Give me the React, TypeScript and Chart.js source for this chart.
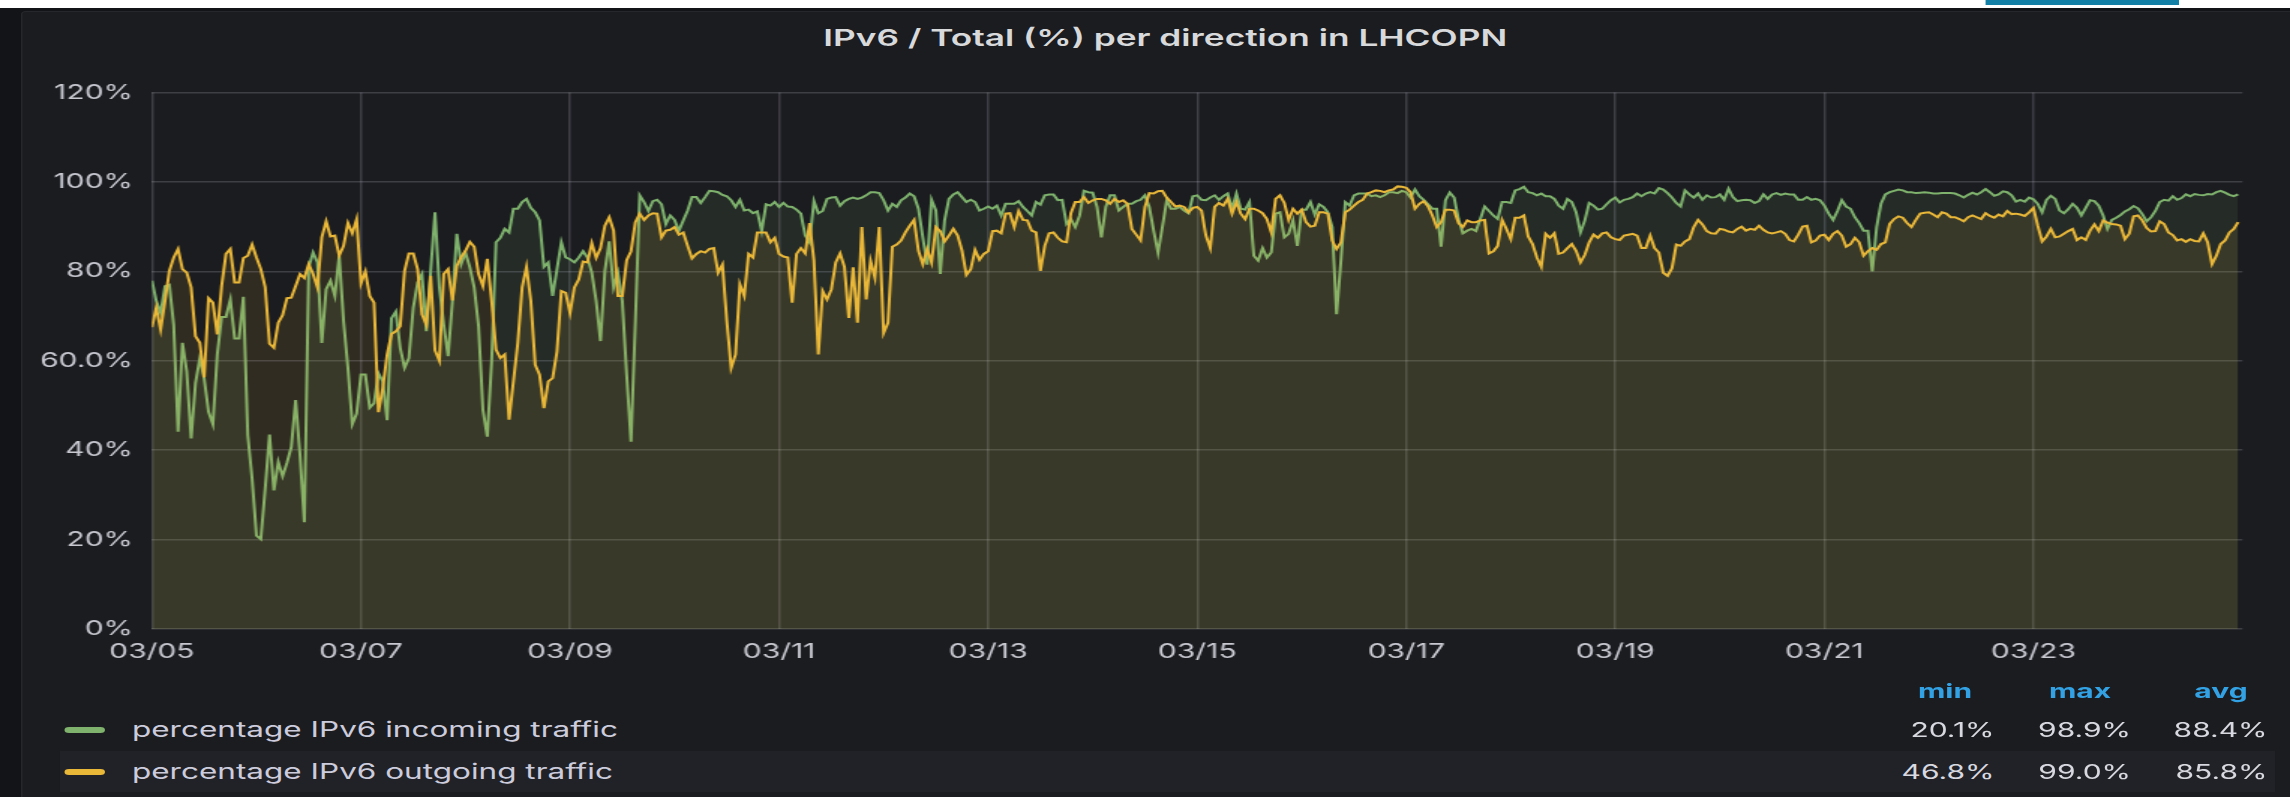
import React, { useEffect, useRef } from 'react';
import { Chart, registerables } from 'chart.js';

Chart.register(...registerables);

// Hourly samples, 03/05 00:00 .. 03/24 23:00 (percent)
const incoming: number[] = [
  77.9, 73.4, 70.7, 76.7, 77.0, 68.0, 44.1, 64.0, 57.6, 42.6,
  55.0, 60.6, 56.0, 48.6, 45.8, 61.4, 69.8, 69.8, 73.7, 65.0,
  65.0, 74.3, 43.4, 33.6, 20.9, 20.1, 31.4, 43.5, 31.0, 37.4,
  34.2, 37.2, 40.7, 51.2, 38.9, 23.9, 80.9, 84.2, 82.0, 64.0,
  76.0, 77.9, 74.5, 83.5, 68.9, 58.4, 45.8, 48.2, 56.9, 56.9,
  49.5, 50.5, 57.2, 55.4, 46.7, 69.5, 71.0, 62.9, 58.4, 60.6,
  71.9, 77.5, 79.4, 66.6, 80.1, 93.2, 76.4, 68.1, 61.0, 73.4,
  88.4, 81.6, 84.2, 80.9, 76.4, 67.7, 49.0, 43.0, 59.9, 86.5,
  87.5, 89.5, 88.7, 94.0, 94.0, 95.5, 96.2, 94.2, 93.2, 91.4,
  81.0, 82.0, 74.5, 80.5, 86.5, 83.1, 82.7, 82.0, 83.1, 84.5,
  83.1, 79.7, 73.4, 64.4, 80.1, 86.7, 76.4, 79.7, 73.4, 56.9,
  41.9, 68.9, 97.0, 95.5, 93.5, 95.7, 96.0, 95.0, 90.6, 92.5,
  91.5, 89.1, 91.4, 93.6, 96.6, 96.6, 95.3, 96.6, 98.0, 97.9,
  97.7, 97.1, 96.8, 95.9, 94.4, 96.0, 93.6, 93.8, 93.0, 93.4,
  89.0, 95.0, 94.7, 95.5, 94.4, 95.3, 94.5, 94.4, 93.8, 92.9,
  88.0, 86.5, 95.7, 93.0, 93.5, 96.2, 96.5, 96.6, 94.7, 95.7,
  96.2, 96.5, 96.2, 96.5, 97.0, 97.7, 97.7, 97.5, 95.9, 93.6,
  95.1, 94.4, 95.9, 96.5, 97.4, 96.8, 94.0, 87.6, 81.5, 96.0,
  93.6, 79.4, 91.4, 96.2, 97.2, 97.7, 96.6, 95.5, 96.0, 95.5,
  93.6, 94.0, 94.5, 94.0, 94.7, 92.5, 95.1, 95.1, 95.1, 95.7,
  94.4, 93.5, 92.5, 95.5, 94.9, 97.0, 97.2, 97.2, 95.9, 96.0,
  90.6, 91.7, 89.9, 92.5, 98.0, 97.7, 97.6, 94.4, 87.6, 94.4,
  97.0, 97.0, 93.6, 94.4, 95.1, 95.1, 95.7, 96.0, 97.0, 94.4,
  89.1, 84.2, 89.9, 95.9, 94.0, 94.0, 94.4, 93.6, 93.0, 96.8,
  97.0, 96.0, 95.9, 96.5, 97.0, 96.0, 96.8, 97.4, 94.0, 97.4,
  94.0, 93.8, 95.5, 83.5, 82.4, 85.2, 83.1, 84.2, 92.9, 93.2,
  87.6, 88.4, 91.4, 85.7, 93.8, 93.8, 95.5, 92.7, 95.0, 94.4,
  93.2, 89.9, 70.4, 82.4, 95.5, 94.7, 97.0, 97.4, 97.4, 97.4,
  96.8, 97.0, 96.6, 97.0, 97.7, 97.7, 97.5, 98.0, 97.7, 96.5,
  98.3, 96.8, 96.0, 95.0, 94.0, 94.0, 85.5, 95.9, 97.6, 96.5,
  91.7, 88.5, 89.1, 89.5, 89.0, 91.7, 94.5, 93.5, 92.5, 91.7,
  95.5, 95.5, 95.3, 98.1, 98.4, 98.9, 97.7, 97.5, 97.0, 97.4,
  96.8, 96.8, 96.2, 94.7, 94.0, 96.2, 95.5, 93.2, 88.7, 91.4,
  95.3, 94.7, 93.8, 94.0, 95.0, 95.9, 96.5, 95.4, 96.0, 96.2,
  96.6, 97.4, 96.8, 97.4, 97.7, 97.4, 98.6, 98.3, 97.5, 96.5,
  95.3, 94.5, 98.1, 97.2, 96.5, 97.4, 96.0, 97.0, 96.5, 96.6,
  97.2, 96.0, 98.5, 96.6, 95.7, 95.9, 96.0, 95.9, 95.3, 95.7,
  97.2, 96.2, 97.2, 97.5, 97.1, 97.4, 97.2, 97.2, 96.0, 96.0,
  96.6, 96.0, 96.2, 95.9, 94.7, 92.9, 91.5, 93.5, 95.9, 94.5,
  94.0, 92.1, 90.8, 89.1, 89.1, 80.0, 89.9, 95.1, 97.2, 97.7,
  98.0, 98.3, 98.1, 97.7, 97.7, 97.5, 97.6, 97.7, 97.6, 97.4,
  97.4, 97.5, 97.5, 97.5, 97.4, 97.0, 96.5, 97.1, 97.6, 97.2,
  97.7, 98.4, 97.7, 96.9, 97.2, 97.9, 97.7, 97.0, 95.6, 96.0,
  95.6, 96.5, 96.1, 95.1, 93.2, 96.0, 96.9, 96.2, 93.6, 93.0,
  93.9, 95.1, 94.2, 92.5, 94.2, 95.9, 95.7, 94.7, 92.5, 89.5,
  91.5, 92.0, 92.6, 93.4, 93.9, 94.6, 94.1, 92.8, 91.2, 92.1,
  93.5, 95.5, 96.0, 95.8, 96.8, 96.0, 96.4, 97.2, 96.8, 97.3,
  97.1, 97.0, 97.3, 97.2, 97.7, 98.0, 97.6, 97.1, 96.8, 97.2,
];

const outgoing: number[] = [
  67.5, 71.9, 67.0, 73.4, 80.1, 83.1, 85.0, 80.5, 79.7, 76.4,
  65.5, 64.0, 56.3, 74.0, 73.0, 65.9, 76.7, 83.9, 85.0, 77.5,
  77.5, 83.0, 83.5, 86.0, 83.1, 80.5, 76.5, 63.8, 62.9, 68.5,
  70.2, 74.0, 74.1, 76.7, 79.4, 78.5, 81.6, 79.4, 76.4, 87.6,
  91.2, 87.8, 88.0, 83.5, 85.7, 90.8, 88.5, 91.7, 77.3, 80.0,
  74.5, 73.0, 48.5, 53.9, 61.4, 66.0, 66.6, 67.7, 80.1, 84.0,
  84.0, 80.5, 70.4, 68.1, 79.0, 62.3, 60.0, 79.4, 80.5, 73.5,
  81.2, 83.2, 84.6, 86.6, 85.5, 79.4, 76.7, 82.8, 73.4, 62.5,
  60.6, 61.4, 46.8, 55.4, 64.0, 76.4, 81.0, 73.4, 59.1, 56.9,
  49.4, 55.4, 56.1, 62.1, 75.6, 75.2, 70.7, 76.4, 78.2, 82.2,
  82.0, 86.3, 83.0, 85.2, 90.2, 92.1, 89.1, 74.5, 74.5, 82.5,
  84.5, 91.0, 92.9, 91.5, 92.5, 93.0, 92.9, 87.6, 89.1, 89.3,
  89.9, 88.2, 88.7, 85.7, 82.9, 83.9, 84.5, 84.2, 85.0, 85.2,
  79.7, 81.5, 68.9, 58.4, 61.4, 77.1, 74.5, 83.9, 83.1, 88.7,
  88.7, 88.7, 86.5, 87.5, 83.9, 83.3, 83.1, 73.0, 83.9, 85.2,
  84.0, 90.8, 82.4, 61.4, 75.6, 73.7, 76.0, 82.0, 84.0, 81.0,
  69.6, 80.9, 68.5, 89.9, 73.7, 82.4, 78.6, 89.9, 66.2, 68.5,
  85.5, 86.0, 86.9, 88.7, 90.2, 91.5, 84.6, 81.6, 85.0, 82.0,
  89.9, 89.0, 86.7, 88.0, 89.5, 88.0, 84.6, 79.2, 80.5, 84.8,
  82.6, 83.9, 84.5, 89.0, 89.1, 88.5, 92.9, 93.0, 89.9, 93.5,
  91.5, 91.4, 89.1, 88.7, 80.1, 85.7, 88.5, 88.7, 87.5, 86.7,
  86.5, 93.0, 95.5, 95.5, 96.6, 95.3, 95.9, 96.2, 96.2, 95.9,
  95.1, 96.2, 95.5, 95.9, 95.1, 89.5, 88.2, 86.9, 94.4, 97.5,
  97.4, 97.9, 98.0, 96.5, 95.5, 94.5, 94.7, 94.4, 93.2, 94.2,
  94.4, 93.6, 88.0, 85.2, 94.4, 95.3, 94.7, 96.2, 92.9, 95.5,
  92.9, 91.7, 94.0, 94.0, 93.6, 93.0, 91.7, 88.7, 96.2, 97.0,
  95.3, 91.5, 94.0, 92.9, 93.8, 91.0, 90.0, 90.2, 93.2, 93.2,
  92.9, 86.9, 85.0, 86.5, 93.2, 93.8, 94.7, 95.5, 96.0, 97.4,
  97.7, 98.1, 98.0, 97.7, 98.1, 98.3, 99.0, 98.9, 98.7, 97.7,
  94.0, 95.1, 95.7, 94.5, 92.5, 89.9, 91.0, 93.8, 93.8, 93.6,
  90.8, 89.9, 91.4, 91.0, 91.0, 91.4, 91.5, 84.0, 84.5, 85.7,
  91.5, 89.5, 87.2, 92.0, 92.0, 92.5, 87.8, 86.1, 83.1, 81.0,
  88.4, 87.5, 88.5, 83.9, 84.2, 85.2, 86.1, 84.6, 82.0, 83.7,
  86.5, 88.2, 87.5, 88.5, 88.7, 87.6, 87.2, 87.0, 88.0, 88.2,
  88.4, 88.0, 85.2, 85.2, 88.0, 85.2, 84.2, 79.7, 79.0, 80.7,
  86.0, 85.7, 86.7, 87.2, 89.9, 91.5, 90.5, 89.0, 88.5, 88.4,
  89.5, 89.3, 88.9, 88.7, 89.5, 90.0, 89.1, 89.5, 89.3, 90.2,
  89.3, 88.7, 88.5, 88.7, 89.0, 88.4, 87.0, 86.7, 88.2, 90.0,
  90.2, 86.5, 86.9, 88.0, 88.2, 87.0, 88.4, 89.0, 88.0, 85.5,
  86.1, 87.5, 86.5, 83.5, 84.5, 85.2, 84.8, 86.1, 86.5, 90.6,
  91.7, 92.3, 92.0, 90.8, 89.9, 91.5, 92.9, 93.1, 93.2, 92.7,
  92.1, 93.2, 92.9, 92.1, 92.1, 91.7, 91.2, 92.1, 92.5, 92.1,
  91.7, 93.0, 92.4, 92.0, 92.7, 92.3, 93.5, 92.8, 92.9, 92.7,
  92.4, 93.2, 94.2, 90.2, 86.7, 87.8, 89.5, 87.6, 87.8, 88.4,
  89.0, 89.5, 87.0, 87.6, 87.0, 89.1, 90.5, 89.0, 91.4, 90.9,
  90.6, 90.5, 90.2, 87.2, 88.4, 92.3, 92.5, 91.4, 89.7, 88.9,
  89.0, 91.2, 90.6, 88.7, 88.1, 86.9, 87.2, 86.6, 87.2, 86.8,
  86.7, 88.5, 86.5, 81.6, 83.5, 86.1, 86.9, 88.7, 89.5, 91.0,
];

const xTickLabels = ['03/05', '03/07', '03/09', '03/11', '03/13', '03/15', '03/17', '03/19', '03/21', '03/23'];
const yTickLabels = ['0%', '20%', '40%', '60.0%', '80%', '100%', '120%'];
const seriesNames = ['percentage IPv6 incoming traffic', 'percentage IPv6 outgoing traffic'];
const seriesColors = ['#7EB26D', '#EAB839'];
const seriesFills = ['rgba(126,178,109,0.1)', 'rgba(234,184,57,0.1)'];
const statHeaders = ['min', 'max', 'avg'];
const incomingStats = ['20.1%', '98.9%', '88.4%'];
const outgoingStats = ['46.8%', '99.0%', '85.8%'];

const DW = 1527; // design width (the reference is stretched horizontally)
const SX = 2290 / DW;
const FONT = 'Inter, "Noto Sans", sans-serif';

export default function App() {
  const ref = useRef<HTMLCanvasElement>(null);

  useEffect(() => {
    document.documentElement.style.overflow = 'hidden';
    document.body.style.overflow = 'hidden';
    Chart.defaults.font.family = FONT;
    const gridColor = 'rgba(204,204,220,0.2)';
    const chart = new Chart(ref.current as HTMLCanvasElement, {
      type: 'line',
      data: {
        datasets: [
          {
            label: seriesNames[0],
            data: incoming.map((y, i) => ({ x: i, y })),
            borderColor: seriesColors[0],
            backgroundColor: seriesFills[0],
            fill: 'origin',
            borderWidth: 2,
            pointRadius: 0,
            tension: 0,
            order: 1,
          },
          {
            label: seriesNames[1],
            data: outgoing.map((y, i) => ({ x: i, y })),
            borderColor: seriesColors[1],
            backgroundColor: seriesFills[1],
            fill: 'origin',
            borderWidth: 2,
            pointRadius: 0,
            tension: 0,
            order: 0,
          },
        ],
      },
      options: {
        animation: false,
        responsive: false,
        events: [],
        layout: { padding: { top: 92.5, left: 0, right: 31.7, bottom: 11 } },
        plugins: { legend: { display: false }, tooltip: { enabled: false } },
        scales: {
          x: {
            type: 'linear',
            min: 0,
            max: 480,
            afterBuildTicks: (axis: any) => {
              axis.ticks = axis.ticks.filter((t: any) => t.value < 480);
            },
            afterFit: (axis: any) => {
              axis.height = 40;
            },
            ticks: {
              stepSize: 48,
              autoSkip: false,
              maxRotation: 0,
              padding: 11,
              color: '#c7c8d0',
              font: { family: FONT, size: 20 },
              callback: (v: any) => xTickLabels[Math.round(Number(v) / 48)] ?? '',
            },
            grid: { color: gridColor, lineWidth: 1.5, drawTicks: false },
            border: { display: false },
          },
          y: {
            min: 0,
            max: 120,
            afterFit: (axis: any) => {
              axis.width = 101.3;
            },
            ticks: {
              stepSize: 20,
              padding: 12.6,
              color: '#c7c8d0',
              font: { family: FONT, size: 20 },
              callback: (v: any) => yTickLabels[Math.round(Number(v) / 20)] ?? '',
            },
            grid: { color: gridColor, lineWidth: 1.5, drawTicks: false },
            border: { display: false },
          },
        },
      },
    });
    return () => chart.destroy();
  }, []);

  const text = (extra: React.CSSProperties): React.CSSProperties => ({
    position: 'absolute',
    fontFamily: FONT,
    fontSize: 20,
    lineHeight: '24px',
    whiteSpace: 'nowrap',
    color: '#ccccdc',
    ...extra,
  });

  const headerCenters = [1297, 1387, 1481];
  const valueRights = [1330, 1421, 1512];
  const rowTops = [718, 760];
  const stats = [incomingStats, outgoingStats];

  return (
    <div
      style={{
        position: 'absolute',
        left: 0,
        top: 0,
        width: DW,
        height: 797,
        overflow: 'hidden',
        background: '#131418',
        transform: `scaleX(${SX})`,
        transformOrigin: '0 0',
      }}
    >
      <div style={{ position: 'absolute', left: 0, top: 0, width: DW, height: 8, background: '#ffffff' }} />
      <div style={{ position: 'absolute', left: 1324, top: 0, width: 129, height: 5, background: '#1380a8' }} />
      <div
        style={{
          position: 'absolute',
          left: 14,
          top: 11,
          width: DW,
          height: 820,
          background: '#1b1c20',
          border: '1px solid #25272c',
          borderRadius: 3,
          boxSizing: 'border-box',
        }}
      />
      <div
        style={text({
          left: 0,
          top: 26,
          width: 1554,
          textAlign: 'center',
          fontSize: 23.5,
          fontWeight: 600,
          color: '#d8d9da',
        })}
      >
        IPv6 / Total (%) per direction in LHCOPN
      </div>
      <canvas ref={ref} width={DW} height={680} style={{ position: 'absolute', left: 0, top: 0 }} />

      <div style={{ position: 'absolute', left: 40, top: 751, width: 1477, height: 41, background: '#212227' }} />

      {statHeaders.map((h, i) => (
        <div
          key={h}
          style={text({
            left: headerCenters[i] - 50,
            top: 679,
            width: 100,
            textAlign: 'center',
            fontWeight: 700,
            color: '#33a2e5',
          })}
        >
          {h}
        </div>
      ))}

      {seriesNames.map((name, r) => (
        <React.Fragment key={name}>
          <div
            style={{
              position: 'absolute',
              left: 42.7,
              top: rowTops[r] + 9,
              width: 27.3,
              height: 6,
              borderRadius: 3,
              background: seriesColors[r],
            }}
          />
          <div style={text({ left: 88, top: rowTops[r], fontSize: 21 })}>{name}</div>
          {stats[r].map((s, i) => (
            <div
              key={i}
              style={text({ left: valueRights[i] - 100, top: rowTops[r], width: 100, textAlign: 'right', color: '#d8d9e0' })}
            >
              {s}
            </div>
          ))}
        </React.Fragment>
      ))}
    </div>
  );
}
